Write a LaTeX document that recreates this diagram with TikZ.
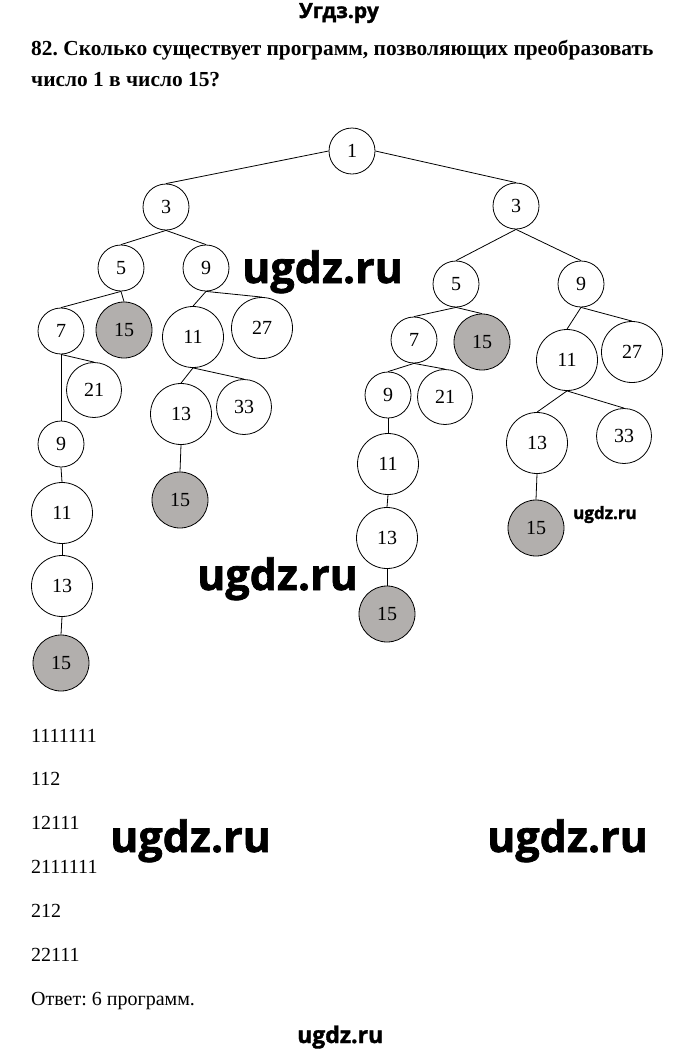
\documentclass[tikz,border=0pt]{standalone}
\usepackage{fontspec}
\setmainfont{Liberation Serif}
\newfontfamily\wmfont{Open Sans}[BoldFeatures={FakeBold=1.6}]
\usepackage{tikz}
\frenchspacing

\definecolor{hitgray}{RGB}{178,175,173}
\newcommand{\numfont}{\fontsize{20}{24}\selectfont}

\begin{document}
\begin{tikzpicture}[x=1pt,y=-1pt,
  vert/.style={circle,draw,line width=0.8pt,inner sep=0pt,font=\numfont},
  small/.style={vert,minimum size=46pt},
  mid/.style={vert,minimum size=55pt},
  big/.style={vert,minimum size=61pt},
  hit/.style={vert,minimum size=56pt,fill=hitgray},
  edge/.style={line width=0.8pt},
  txt/.style={anchor=base west,inner sep=0pt,font=\numfont},
  wm/.style={inner sep=0pt,font=\wmfont\bfseries}]
\fill[white] (0,0) rectangle (680,1053);
\useasboundingbox (0,0) rectangle (680,1053);

% header
\node[wm,anchor=base,font=\wmfont\bfseries\fontsize{21}{26}\selectfont] (site) at (339,18) {Угдз.ру};
\node[txt,font=\bfseries\fontsize{21.4}{24}\selectfont] (q1) at (31,55) {82. Сколько существует программ, позволяющих преобразовать};
\node[txt,font=\bfseries\fontsize{21.4}{24}\selectfont] (q2) at (31,86) {число 1 в число 15?};

% tree
\node[small] (n1) at (352,151) {1};
\node[small] (l3) at (166,207) {3};
\node[small] (r3) at (516,206) {3};

\node[small] (l5) at (121,268) {5};
\node[small] (l9) at (206,268) {9};
\node[small] (l7) at (61,331) {7};
\node[hit] (l15a) at (124,330) {15};
\node[big] (l11) at (193,337) {11};
\node[big] (l27) at (262,328) {27};
\node[mid] (l21) at (94,390) {21};
\node[big] (l13) at (181,414) {13};
\node[mid] (l33) at (244,407) {33};
\node[hit] (l15b) at (180,500) {15};
\node[small] (l9b) at (61,444) {9};
\node[big] (l11b) at (62,513) {11};
\node[big] (l13b) at (62,586) {13};
\node[hit] (l15c) at (61,663) {15};

\node[small] (r5) at (456,284) {5};
\node[small] (r9) at (581,284) {9};
\node[small] (r7) at (414,340) {7};
\node[hit] (r15a) at (482,342) {15};
\node[big] (r11) at (567,360) {11};
\node[big] (r27) at (632,352) {27};
\node[small] (r9b) at (388,395) {9};
\node[mid] (r21) at (445,397) {21};
\node[big] (r11b) at (388,464) {11};
\node[big] (r13b) at (387,538) {13};
\node[hit] (r15c) at (387,614) {15};
\node[big] (r13) at (537,443) {13};
\node[mid] (r33) at (624,436) {33};
\node[hit] (r15b) at (536,528) {15};

\draw[edge] (n1.west) -- (l3.north);
\draw[edge] (n1.east) -- (r3.north);
\draw[edge] (l3.south) -- (l5.north);
\draw[edge] (l3.south) -- (l9.north);
\draw[edge] (l5.south) -- (l7.north);
\draw[edge] (l5.south) -- (l15a.north);
\draw[edge] (l9.south) -- (l11.north);
\draw[edge] (l9.south) -- (l27.north);
\draw[edge] (l7.south) -- (l21.north);
\draw[edge] (l7.south) -- (l9b.north);
\draw[edge] (l9b.south) -- (l11b.north);
\draw[edge] (l11b.south) -- (l13b.north);
\draw[edge] (l13b.south) -- (l15c.north);
\draw[edge] (l11.south) -- (l13.north);
\draw[edge] (l11.south) -- (l33.north);
\draw[edge] (l13.south) -- (l15b.north);

\draw[edge] (r3.south) -- (r5.north);
\draw[edge] (r3.south) -- (r9.north);
\draw[edge] (r5.south) -- (r7.north);
\draw[edge] (r5.south) -- (r15a.north);
\draw[edge] (r9.south) -- (r11.north);
\draw[edge] (r9.south) -- (r27.north);
\draw[edge] (r7.south) -- (r9b.north);
\draw[edge] (r7.south) -- (r21.north);
\draw[edge] (r9b.south) -- (r11b.north);
\draw[edge] (r11b.south) -- (r13b.north);
\draw[edge] (r13b.south) -- (r15c.north);
\draw[edge] (r11.south) -- (r13.north);
\draw[edge] (r11.south) -- (r33.north);
\draw[edge] (r13.south) -- (r15b.north);

% programs
\foreach \i/\y/\t in {1/742/1111111,2/785/112,3/829/12111,4/873/2111111,5/917/212,6/961/22111}
  \node[txt] (p\i) at (31,\y) {\t};
\node[txt] (ans) at (31,1005) {Ответ: 6 программ.};

% watermarks
\node[wm,anchor=base west,font=\wmfont\bfseries\fontsize{43}{50}\selectfont] (wma) at (242,283) {ugdz.ru};
\node[wm,anchor=base west,font=\wmfont\bfseries\fontsize{43}{50}\selectfont] (wmb) at (197,590) {ugdz.ru};
\node[wm,anchor=base west,font=\wmfont\bfseries\fontsize{43}{50}\selectfont] (wmc) at (110,852) {ugdz.ru};
\node[wm,anchor=base west,font=\wmfont\bfseries\fontsize{43}{50}\selectfont] (wmd) at (487,852) {ugdz.ru};
\node[wm,anchor=base west,font=\wmfont\bfseries\fontsize{17}{20}\selectfont] (wme) at (573,519) {ugdz.ru};
\node[wm,anchor=base west,font=\wmfont\bfseries\fontsize{23}{27}\selectfont] (wmf) at (297,1043) {ugdz.ru};
\end{tikzpicture}
\end{document}
